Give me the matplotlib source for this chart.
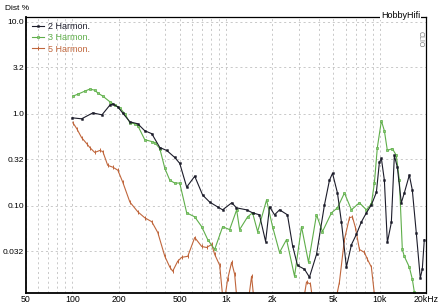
import numpy as np
import matplotlib
matplotlib.use("Agg")
import matplotlib.pyplot as plt

plt.rcParams['font.family'] = ['Liberation Sans Narrow', 'Liberation Sans', 'DejaVu Sans']

# 2. Harmonische (schwarz)
f_h2 = [100, 115, 136, 156, 176, 184, 198, 213, 237, 267, 296, 329, 371, 412, 464, 500,
        555, 626, 705, 783, 882, 951, 1090, 1170, 1360, 1490, 1650, 1810, 1920, 2070, 2230,
        2510, 2710, 2920, 3240, 3490, 3880, 4370, 4710, 4930, 5310, 5640, 6070, 6550, 7050,
        7600, 8190, 8820, 9510, 9950, 10250, 10720, 11210, 11900, 12450, 13020, 13820,
        14450, 15580, 16290, 17290, 18360, 18920, 19500]
d_h2 = [0.906, 0.884, 1.025, 0.976, 1.25, 1.28, 1.19, 1.02, 0.82, 0.78, 0.656, 0.609, 0.431,
        0.40, 0.336, 0.29, 0.16, 0.21, 0.131, 0.110, 0.0975, 0.0906, 0.108, 0.0952, 0.0906,
        0.084, 0.080, 0.041, 0.0975, 0.080, 0.0906, 0.080, 0.037, 0.0225, 0.0205, 0.0168,
        0.0297, 0.1025, 0.19, 0.226, 0.138, 0.066, 0.0216, 0.038, 0.049, 0.067, 0.084, 0.1025,
        0.14, 0.297, 0.328, 0.19, 0.040, 0.066, 0.353, 0.263, 0.108, 0.138, 0.216, 0.149,
        0.051, 0.0164, 0.0205, 0.043]

# 3. Harmonische (gruen)
f_h3 = [101, 109, 121, 130, 140, 147, 158, 176, 189, 204, 220, 237, 255, 267, 296, 329, 344,
        371, 400, 431, 464, 500, 555, 626, 695, 760, 844, 951, 1056, 1173, 1226, 1382, 1489,
        1606, 1836, 2009, 2230, 2476, 2791, 3099, 3441, 3878, 4242, 4853, 5308, 5893, 6545,
        7377, 8190, 8824, 9230, 9650, 10250, 10720, 11210, 12080, 12820, 13420, 14030, 14450,
        15580, 16290, 16790]
d_h3 = [1.56, 1.64, 1.77, 1.86, 1.81, 1.68, 1.56, 1.35, 1.25, 1.16, 1.0, 0.80, 0.78, 0.743,
        0.525, 0.50, 0.488, 0.42, 0.256, 0.19, 0.177, 0.177, 0.084, 0.076, 0.0594, 0.0431,
        0.0336, 0.0594, 0.0552, 0.0906, 0.0552, 0.076, 0.084, 0.0525, 0.116, 0.0594, 0.0312,
        0.0431, 0.0172, 0.0594, 0.0244, 0.080, 0.0525, 0.084, 0.0952, 0.138, 0.0906, 0.108,
        0.0906, 0.105, 0.177, 0.431, 0.84, 0.656, 0.40, 0.42, 0.353, 0.19, 0.0336, 0.0283,
        0.0216, 0.016, 0.0116]

# 5. Harmonische (braun)
f_h5 = [101, 107, 115, 124, 130, 140, 151, 158, 170, 184, 198, 213, 237, 267, 296, 329, 360,
        400, 431, 450, 485, 515, 564, 626, 695, 748, 807, 844, 910, 965, 1025, 1088, 1138,
        1190, 1382, 1467, 1535, 3146, 3340, 3545, 3708, 5076, 5470, 5893, 6352, 6643, 6950,
        7377, 7950, 8314, 8824, 9230, 9650]
d_h5 = [0.80, 0.69, 0.552, 0.476, 0.431, 0.381, 0.40, 0.39, 0.276, 0.263, 0.244, 0.181, 0.110,
        0.0862, 0.0743, 0.0673, 0.0513, 0.0283, 0.0216, 0.0195, 0.025, 0.0276, 0.0283, 0.0453,
        0.0362, 0.0353, 0.0381, 0.0297, 0.0226, 0.008, 0.016, 0.0244, 0.0181, 0.008, 0.008,
        0.0172, 0.008, 0.008, 0.0149, 0.0141, 0.008, 0.008, 0.0149, 0.0431, 0.0743, 0.076,
        0.058, 0.0336, 0.0312, 0.0263, 0.0216, 0.011, 0.0076]

x_ticks = [50, 100, 200, 500, 1000, 2000, 5000, 10000, 20000]
x_labels = ['50', '100', '200', '500', '1k', '2k', '5k', '10k', '20kHz']
y_ticks = [10, 3.2, 1.0, 0.32, 0.1, 0.032]
y_labels = ['10.0', '3.2', '1.0', '0.32', '0.10', '0.032']

c_h2 = '#1c1c2a'
c_h3 = '#5fae4a'
c_h5 = '#c0663c'

fig = plt.figure(figsize=(4.42, 3.07), dpi=100)
ax = fig.add_axes([26/442, 1-293/307, 400/442, (293-17)/307])

ax.plot(f_h5, d_h5, color=c_h5, lw=0.8, marker='|', ms=2.2, mew=0.7, label='5 Harmon.')
ax.plot(f_h3, d_h3, color=c_h3, lw=0.8, marker='s', ms=1.6, mew=0.5, mfc='#8ccf78', label='3 Harmon.')
ax.plot(f_h2, d_h2, color=c_h2, lw=0.8, marker='s', ms=1.3, mew=0.4, label='2 Harmon.')

ax.set_xscale('log')
ax.set_yscale('log')
ax.set_xlim(50, 20000)
ax.set_ylim(0.0113, 11.3)

minor_x = [m * d for d in (10, 100, 1000, 10000) for m in range(1, 10)
           if 50 < m * d < 20000 and m * d not in x_ticks]
ax.set_xticks(x_ticks)
ax.set_xticklabels(x_labels)
ax.set_xticks(minor_x, minor=True)
ax.set_xticklabels([], minor=True)
ax.set_yticks(y_ticks)
ax.set_yticklabels(y_labels)
ax.set_yticks([], minor=True)
ax.tick_params(axis='both', which='both', length=0)
ax.tick_params(axis='x', pad=1.5, labelsize=6.3)
ax.tick_params(axis='y', pad=1.5, labelsize=6)

ax.grid(True, axis='x', which='both', color='#b4b4b4', ls=(0, (3, 4)), lw=0.5)
ax.grid(True, axis='y', which='major', color='#b4b4b4', ls=(0, (3, 4)), lw=0.5)

for s in ['left', 'bottom']:
    ax.spines[s].set_linewidth(1.3)
for s in ['top', 'right']:
    ax.spines[s].set_linewidth(0.9)

fig.text(5/442, 1-8/307, 'Dist %', fontsize=6, va='center', ha='left')
fig.text(381/442, 1-15/307, 'HobbyHifi', fontsize=6.5, va='center', ha='left',
         bbox=dict(fc='white', ec='none', pad=0.5))
ax.text(0.985, 0.92, 'CLIO', transform=ax.transAxes, rotation=270, fontsize=5,
        color='#777777', ha='center', va='center')

leg_h = ax.legend(handles=[ax.lines[2], ax.lines[1], ax.lines[0]], loc='upper left',
                  bbox_to_anchor=(0.005, 0.995), frameon=False, fontsize=6.5,
                  handlelength=1.4, handletextpad=0.4, labelspacing=0.25, borderaxespad=0)
for t, c in zip(leg_h.get_texts(), [c_h2, c_h3, c_h5]):
    t.set_color(c)

fig.savefig('out.png', dpi=100)
